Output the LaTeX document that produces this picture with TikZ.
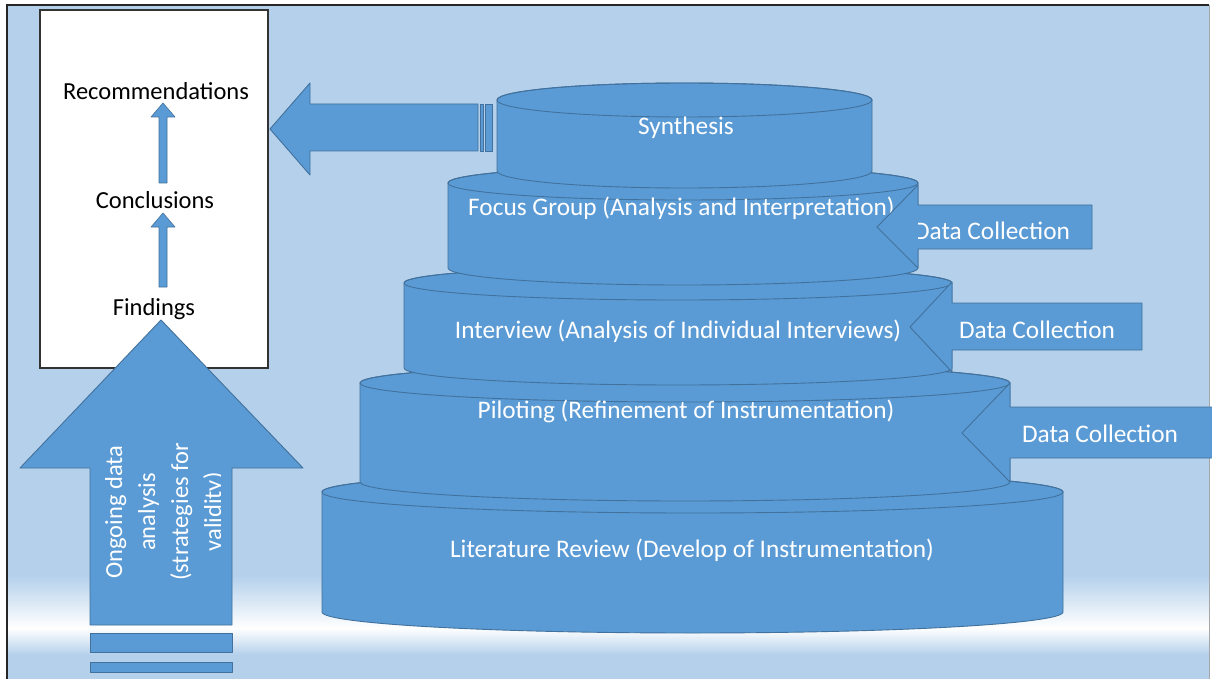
\documentclass[tikz,border=0pt]{standalone}
\usepackage{fontspec}
\setmainfont{Carlito}
\definecolor{bgblue}{HTML}{B4D0EB}
\definecolor{shapeblue}{HTML}{5B9BD5}
\definecolor{shapeedge}{HTML}{41719C}
\newcommand{\mycyl}[5]{%
  \pgfmathsetmacro\cyX{(#1+#2)/2}%
  \pgfmathsetmacro\cyR{(#2-#1)/2}%
  \path[blk] (#1,#3) -- (#1,#4)
    arc[start angle=180,end angle=360,x radius=\cyR pt,y radius=#5 pt]
    -- (#2,#3)
    arc[start angle=0,end angle=180,x radius=\cyR pt,y radius=#5 pt] -- cycle;
  \draw[edgeline] (\cyX,#3) ellipse[x radius=\cyR pt,y radius=#5 pt];
}
% tip x, tip y, base x, head top, head bottom, shaft top, shaft bottom, right x
\newcommand{\dcarrow}[8]{%
  \path[blk] (#1,#2) -- (#3,#4) -- (#3,#6) -- (#8,#6) -- (#8,#7) -- (#3,#7) -- (#3,#5) -- cycle;
}
\begin{document}
\begin{tikzpicture}[x=1pt,y=-1pt,
  blk/.style={fill=shapeblue, draw=shapeedge, line width=0.9pt, line join=round},
  edgeline/.style={draw=shapeedge, line width=0.9pt},
  lbl/.style={font=\fontsize{24.5}{33}\selectfont, inner sep=0pt, anchor=base},
  wlbl/.style={lbl, text=white, font=\fontsize{25.3}{33}\selectfont},
]
\useasboundingbox (0,0) rectangle (1212,679);
\fill[white] (0,0) rectangle (1212,679);
% background
\fill[bgblue] (7,5) rectangle (1209,679);
\shade[top color=bgblue, bottom color=white] (7,575) rectangle (1209,628);
\shade[top color=white, bottom color=bgblue] (7,628) rectangle (1209,655);
\draw[black!85, line width=2pt] (7,679) -- (7,5) -- (1209,5);
\draw[black!35, line width=1pt] (1209,5) -- (1209,679);

% white box
\draw[fill=white, draw=black!80, line width=1.5pt] (40,10) rectangle (268,368);
\node[lbl] (rec) at (156,100) {Recommendations};
\node[lbl] (con) at (155,208) {Conclusions};
\node[lbl] (fin) at (154,315) {Findings};
\path[blk, line width=0.6pt] (159,183) -- (159,117) -- (151,117) -- (163,103) -- (175,117) -- (167,117) -- (167,183) -- cycle;
\path[blk, line width=0.6pt] (159,287) -- (159,227) -- (151,227) -- (163,213) -- (175,227) -- (167,227) -- (167,287) -- cycle;

% big up arrow
\path[blk] (90,625) -- (90,468) -- (20,468) -- (161,320) -- (303,468) -- (232,468) -- (232,625) -- cycle;
\path[blk] (90,633) rectangle (232,652);
\path[blk] (90,662) rectangle (232,672);
\begin{scope}
  \clip (90,330) rectangle (220,625);
  \node[lbl, text=white, rotate=90, align=center, anchor=center] (ongoing) at (165,512)
    {Ongoing data\\analysis\\(strategies for\\validity)};
\end{scope}

% left arrow from synthesis
\path[blk] (478,104) -- (310,104) -- (310,83) -- (270,129) -- (310,175) -- (310,151) -- (478,151) -- cycle;
\path[blk] (480,104) rectangle (483,151);
\path[blk] (485,104) rectangle (492,151);

% cylinders, bottom to top
\mycyl{322}{1063}{492}{612}{21}
\node[wlbl] (lit) at (692,557) {Literature Review (Develop of Instrumentation)};

\mycyl{360}{1010}{383}{482}{19}
\node[wlbl] (pil) at (686,418) {Piloting (Refinement of Instrumentation)};
\dcarrow{962}{433}{1010}{383}{482}{407}{458}{1214}
\node[wlbl] (dc3) at (1100,442) {Data Collection};

\mycyl{404}{952}{283}{368}{17}
\node[wlbl] (int) at (678,338) {Interview (Analysis of Individual Interviews)};
\dcarrow{910}{327}{952}{282}{372}{303}{350}{1142}
\node[wlbl] (dc2) at (1037,338) {Data Collection};

\mycyl{448}{918}{183}{268}{17}
\node[wlbl, anchor=base west] (foc) at (468,215) {Focus Group (Analysis and Interpretation)};
\dcarrow{877}{227}{918}{185}{268}{205}{249}{1092}
\begin{scope}
  \clip (918,205) rectangle (1092,240.5);
  \node[wlbl] (dc1) at (992,239.5) {Data Collection};
\end{scope}

\mycyl{497}{872}{100}{171}{17}
\node[wlbl] (syn) at (686,135) {Synthesis};
\end{tikzpicture}
\end{document}
